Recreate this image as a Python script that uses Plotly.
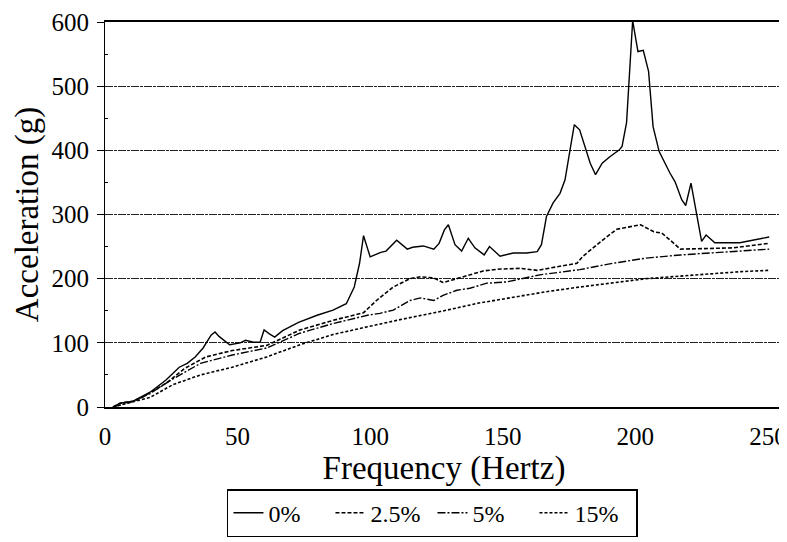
import plotly.graph_objects as go

# ---- data ----
freq_0 = [3, 5.7, 10.6, 17, 23, 28, 31, 34, 37, 40, 41.5, 43, 47, 51, 53, 56, 58.5, 60, 62, 64, 67,
          73, 80, 86, 91, 94, 96, 97.5, 100, 104, 106, 110, 114, 116, 120, 124, 126, 128, 129.5,
          132, 134.5, 137, 139.5, 143, 145, 149, 154, 159, 163, 164.6, 166.5, 169, 171.6, 173.5,
          175.4, 177, 179, 183, 185, 187.5, 190.4, 194, 195, 196.7, 199, 201, 203, 205, 206.7,
          209, 213, 215, 217.5, 219, 221, 225, 226.7, 230, 239.4, 250.5]
acc_0 = [0, 6, 9, 23, 42, 62, 68, 78, 92, 112, 117, 110, 97, 100, 104, 101, 101, 120, 114, 109, 119,
         132, 143, 151, 161, 187, 224, 267, 234, 241, 243, 260, 246, 249, 251, 246, 255, 276, 284,
         253, 243, 263, 248, 237, 250, 235, 240, 240, 242, 253, 297, 318, 333, 354,
         401, 440, 432, 380, 362, 380, 390, 401, 406, 443, 602, 554, 556, 523, 437,
         398, 365, 351, 323, 314, 349, 258, 268, 256, 256, 265]

freq_25 = [3, 5.7, 10.6, 14, 23, 30, 38, 48, 61, 73.5, 86, 97.5, 102.4, 108.7, 115, 119, 124, 127.5,
           131, 137.6, 142.6, 149, 156.6, 163, 170, 178, 180, 187, 193, 199, 202, 207, 210, 214,
           217, 237, 250.5]
acc_25 = [0, 6, 9, 15, 37, 60, 78, 88, 96, 120, 135, 147, 166, 187, 200, 203, 201, 194,
          198, 206, 212, 215, 216, 213, 218, 224, 234, 258, 277, 281, 284, 273, 271, 257,
          246, 248, 255]

freq_5 = [3, 10.6, 17, 25.7, 36, 48, 61, 73.5, 86, 99, 103.7, 108.7, 115, 119, 124, 127.5, 132.7,
          137.6, 144, 151.6, 164, 179, 191.6, 204, 217, 229, 250.5]
acc_5 = [0, 9, 21, 44, 68, 81, 92, 115, 130, 143, 146, 151, 166, 170, 166, 174, 182,
         185, 193, 195, 206, 214, 224, 232, 237, 240, 246]

freq_15 = [3, 10.6, 17, 25.7, 36, 48, 61, 73.5, 86, 99, 110, 129, 141, 154, 167, 179, 192, 204,
           217, 229, 240, 250.5]
acc_15 = [0, 8, 15, 35, 50, 62, 78, 97, 113, 125, 135, 151, 162, 171, 180, 187, 194, 200,
          204, 208, 211, 213]

names = ["0%", "2.5%", "5%", "15%"]
y_ticks = [0, 100, 200, 300, 400, 500, 600]
x_ticks = [0, 50, 100, 150, 200, 250]

SERIF = "Liberation Serif"

fig = go.Figure()
styles = [
    dict(dash="solid", width=1.4),
    dict(dash="4px,2px", width=1.6),
    dict(dash="8px,2px,2px,2px", width=1.4),
    dict(dash="3px,2px", width=1.6),
]
series = [(freq_0, acc_0), (freq_25, acc_25), (freq_5, acc_5), (freq_15, acc_15)]
for (fx, fy), nm, st in zip(series, names, styles):
    fig.add_trace(go.Scatter(x=fx, y=fy, mode="lines", name=nm,
                             line=dict(color="black", width=st["width"], dash=st["dash"])))

# page body adds an 8px margin, so the figure is sized 8px smaller than the window
fig.update_layout(
    width=779, height=534,
    margin=dict(l=97, r=4, t=14, b=135),
    paper_bgcolor="white", plot_bgcolor="white",
    font=dict(family=SERIF, color="black", size=25),
    showlegend=True,
    legend=dict(orientation="h", x=0.483, xanchor="center", y=-0.338, yanchor="bottom",
                bordercolor="black", borderwidth=1.5, bgcolor="white",
                font=dict(family=SERIF, size=24, color="black"),
                itemwidth=30, tracegroupgap=0, entrywidth=57, entrywidthmode="pixels"),
)
fig.update_xaxes(
    range=[0, 255.7], tickvals=x_ticks, ticktext=[str(v) for v in x_ticks],
    showgrid=False, zeroline=False, automargin=False,
    showline=True, linecolor="black", linewidth=1.5, mirror=True,
    ticks="", ticklabelstandoff=6,
    tickfont=dict(family=SERIF, size=25, color="black"),
    title=dict(text="Frequency (Hertz)", font=dict(family=SERIF, size=33, color="black"), standoff=4),
)
fig.update_yaxes(
    range=[0, 600], tickvals=y_ticks, ticktext=[str(v) for v in y_ticks],
    showgrid=True, gridcolor="#222222", gridwidth=1, griddash="8px,1px,3px,1px",
    zeroline=False, automargin=False,
    showline=True, linecolor="black", linewidth=1.2, mirror=True,
    ticks="outside", ticklen=7, tickcolor="black", tickwidth=1,
    minor=dict(tickvals=[50, 150, 250, 350, 450, 550], ticks="inside", ticklen=3,
               tickcolor="black", showgrid=False),
    ticklabelstandoff=3,
    tickfont=dict(family=SERIF, size=25, color="black"),
    title=dict(text="Acceleration (g)", font=dict(family=SERIF, size=33, color="black"), standoff=2),
)

fig.write_html("out.html")
